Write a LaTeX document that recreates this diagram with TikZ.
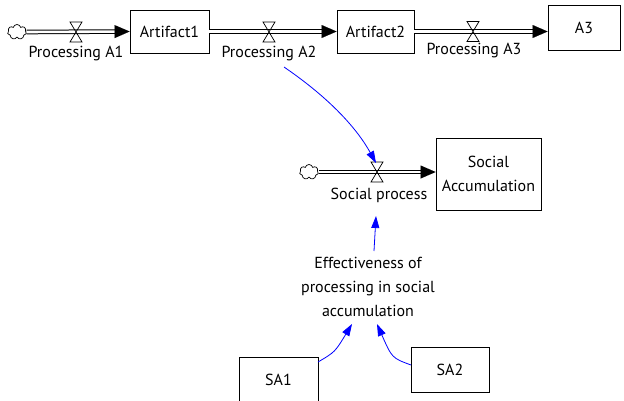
\documentclass[tikz,border=0pt]{standalone}
\usepackage{fontspec}
\setmainfont{PT Sans}
\usetikzlibrary{arrows.meta,shapes.symbols,calc}
\begin{document}
\begin{tikzpicture}[x=1pt,y=-1pt,
  every node/.style={font=\fontsize{16}{24}\selectfont, inner sep=0pt},
  stock/.style={draw=black, line width=0.9pt, minimum width=#1, align=center},
  lbl/.style={align=center},
  cloudy/.style={cloud, cloud puffs=7, draw=black, line width=0.7pt, minimum width=19pt, minimum height=15pt, aspect=1.3, inner sep=0pt},
  pipe/.style={draw=black, line width=1pt, double=white, double distance=2.6pt, shorten >=12pt},
  pipetip/.style={draw=white, line width=0.01pt, -{Triangle[length=15pt,width=13pt,black]}},
  info/.style={draw=blue, line width=0.8pt, -{Triangle[length=12pt,width=8pt,blue]}},
  valve/.style={draw=black, line width=0.7pt}
]
\useasboundingbox (0,0) rectangle (624,400);
\fill[white] (0,0) rectangle (624,400);

% main row
\node[cloudy] (c1) at (17,32) {};
\node[stock=79pt, minimum height=43pt] (art1) at (169.5,31.5) {Artifact1};
\node[stock=77pt, minimum height=43pt] (art2) at (375.5,31.5) {Artifact2};
\node[stock=72pt, minimum height=45pt] (a3) at (584,27.5) {A3};

\draw[pipe] (c1.east) -- (art1.west);
\draw[pipetip] (c1.east) -- (art1.west);
\draw[pipe] (art1.east) -- (art2.west);
\draw[pipetip] (art1.east) -- (art2.west);
\draw[pipe] (art2.east) -- (art2.east -| a3.west);
\draw[pipetip] (art2.east) -- (art2.east -| a3.west);

\coordinate (v1) at (76,32);
\coordinate (v2) at (269,32);
\coordinate (v3) at (473,31.5);
\foreach \v in {v1,v2,v3}{
  \draw[valve] ($(\v)+(-6,-10)$) -- ($(\v)+(6,-10)$) -- ($(\v)+(-6,10)$) -- ($(\v)+(6,10)$) -- cycle;
}
\node[lbl] (pa1) at (76,53) {Processing A1};
\node[lbl] (pa2) at (269,53) {Processing A2};
\node[lbl] (pa3) at (474,51) {Processing A3};

% social row
\node[cloudy] (c2) at (309,172) {};
\node[stock=105pt, minimum height=72pt] (sacc) at (488.5,174) {Social\\Accumulation};
\draw[pipe] (c2.east) -- (c2.east -| sacc.west);
\draw[pipetip] (c2.east) -- (c2.east -| sacc.west);
\coordinate (v4) at (377,172);
\draw[valve] ($(v4)+(-6,-10)$) -- ($(v4)+(6,-10)$) -- ($(v4)+(-6,10)$) -- ($(v4)+(6,10)$) -- cycle;
\coordinate (v4top) at (376,163);
\node[lbl] (sp) at (379,195) {Social process};

% effectiveness
\node[lbl] (eff) at (368,287) {Effectiveness of\\processing in social\\accumulation};
\node[stock=79pt, minimum height=45pt] (sa1) at (278.5,379.5) {SA1};
\node[stock=78pt, minimum height=45pt] (sa2) at (450,369.5) {SA2};

% info links
\coordinate (a2start) at (284,67);
\draw[info] (a2start) .. controls (325,95) and (355,125) .. (v4top);
\coordinate (effTop) at (374,251);
\coordinate (spBot) at (376,216);
\draw[info] (effTop) -- (spBot);
\coordinate (sa1s) at (318,362);
\coordinate (effL) at (352,324);
\draw[info] (sa1s) .. controls (335,352) .. (effL);
\coordinate (sa2s) at (411,365);
\coordinate (effR) at (377,324);
\draw[info] (sa2s) .. controls (392,358) .. (effR);
\end{tikzpicture}
\end{document}
